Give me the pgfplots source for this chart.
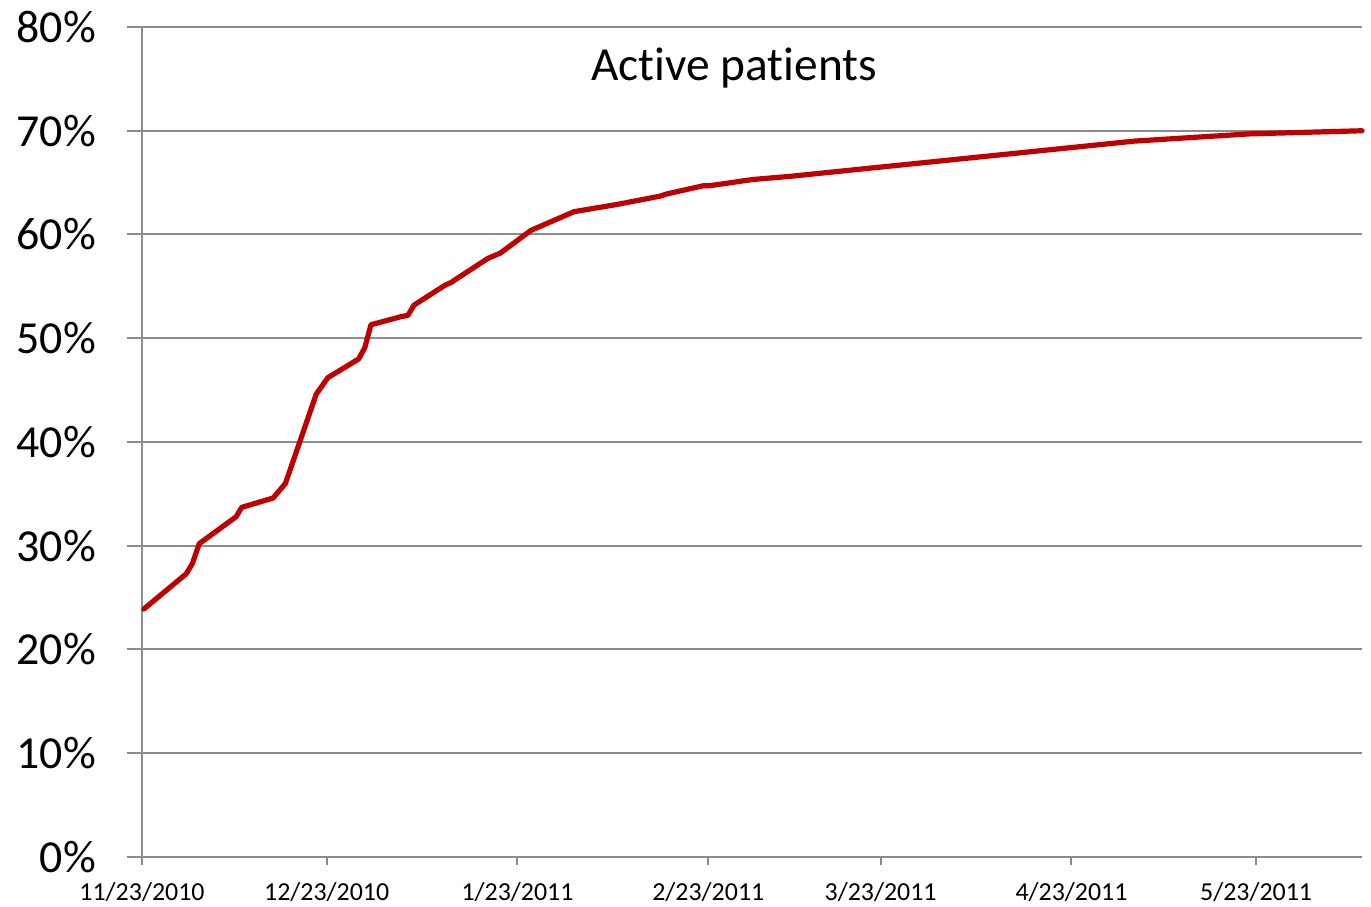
\documentclass[border=0pt]{standalone}
\usepackage{fontspec}
\setmainfont[Ligatures=NoCommon]{Carlito}
\usepackage{pgfplots}
\pgfplotsset{compat=1.18}
\definecolor{linered}{HTML}{C00000}
\definecolor{gridgrey}{HTML}{8C8C8C}
\begin{document}
\begin{tikzpicture}
\begin{axis}[
  at={(0,0)}, anchor=south west,
  scale only axis,
  width=610bp, height=415bp,
  xmin=0, xmax=198.2,
  ymin=0, ymax=80,
  axis x line=bottom, axis y line=left,
  axis line style={draw=gridgrey, line width=1bp, -},
  ytick={0,10,20,30,40,50,60,70,80},
  yticklabels={0\%,10\%,20\%,30\%,40\%,50\%,60\%,70\%,80\%},
  xtick={0,30,61,92,120,151,181},
  xticklabels={11/23/2010,12/23/2010,1/23/2011,2/23/2011,3/23/2011,4/23/2011,5/23/2011},
  ymajorgrids,
  major grid style={draw=gridgrey, line width=1bp},
  tick align=outside,
  major tick length=7.5bp,
  tick style={draw=gridgrey, line width=1bp},
  xtick style={/pgfplots/major tick length=4bp},
  yticklabel style={font=\fontsize{23}{27}\selectfont, anchor=east, xshift=-12bp},
  xticklabel style={font=\fontsize{13}{15}\selectfont, anchor=north, yshift=-1.5bp},
  clip=false,
]
\addplot[linered, line width=2.6bp, line cap=round, line join=round] coordinates {
(0.3,23.9) (7.2,27.3) (8.2,28.3) (9.3,30.2) (15.3,32.8) (16.2,33.7)
(21.3,34.6) (23.3,36.0) (28.3,44.6) (30.2,46.2) (35.2,48.0) (36.2,49.1)
(37.2,51.3) (42.2,52.1) (43.2,52.2) (44.2,53.2) (49.2,55.1) (50.3,55.4)
(51.3,55.8) (56.2,57.7) (58.2,58.2) (63.2,60.4) (70.2,62.2) (77.2,62.9)
(84.2,63.7) (85.2,63.9) (91.2,64.7) (92.2,64.7) (99.2,65.3) (105.2,65.6)
(161.2,69.0) (180.0,69.7) (198.2,70.0)
};
\node[font=\fontsize{23.8}{28}\selectfont] at (axis cs:96.2,76) {Active patients};
\end{axis}
\pgfresetboundingbox
\path[use as bounding box] (-71bp,-25bp) rectangle (614.5bp,428.5bp);
\end{tikzpicture}
\end{document}
